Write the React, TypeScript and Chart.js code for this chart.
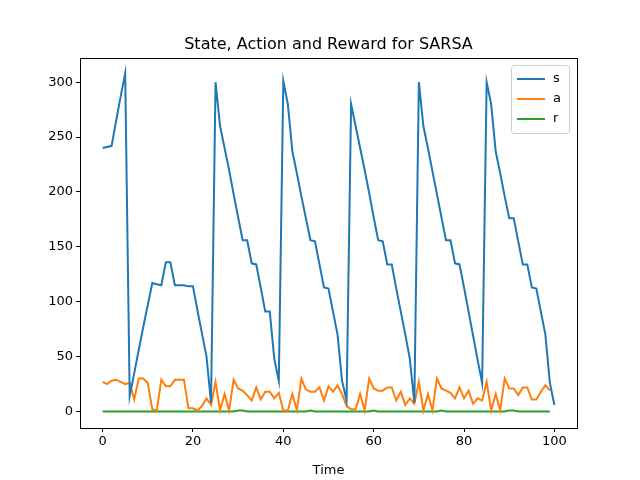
import { useEffect, useRef } from "react";
import { Chart, registerables } from "chart.js";

Chart.register(...registerables);

const sValues = [
  240, 241, 242, 265, 287, 308, 14, 35, 56, 77, 97, 117, 116, 115, 136, 136, 115, 115, 115, 114,
  114, 92, 71, 50, 8, 300, 260, 240, 220, 198, 177, 156, 156, 135, 134, 113, 91, 91, 48, 28,
  301, 280, 237, 217, 196, 176, 156, 155, 134, 113, 112, 91, 70, 28, 10, 280, 260, 240, 220, 199,
  177, 156, 155, 134, 134, 112, 91, 70, 48, 8, 300, 260, 240, 219, 198, 177, 156, 156, 135, 134,
  113, 91, 69, 47, 26, 300, 280, 237, 217, 196, 176, 176, 155, 134, 134, 113, 112, 91, 70, 26, 6,
];
const aValues = [
  27, 25, 28, 29, 27, 25, 26, 11, 30, 30, 26, 2, 1, 29, 23, 23, 29, 29, 29, 3,
  3, 1, 5, 12, 6, 27, 1, 16, 1, 29, 21, 19, 15, 10, 22, 11, 18, 18, 12, 17,
  1, 1, 16, 1, 30, 20, 18, 18, 22, 10, 23, 18, 24, 16, 5, 2, 2, 16, 1, 30,
  21, 19, 19, 22, 22, 10, 18, 6, 12, 7, 27, 1, 16, 1, 30, 21, 19, 17, 12, 22,
  12, 19, 7, 12, 10, 27, 1, 16, 1, 30, 21, 21, 15, 22, 22, 11, 11, 18, 24, 19,
];
const rValues = [
  0, 0, 0, 0, 0, 0, 0, 0, 0, 0, 0, 0, 0, 0, 0, 0, 0, 0, 0, 0,
  0, 0, 0, 0, 0, 0, 0, 0, 0, 0, 1, 1, 0, 0, 0, 0, 0, 0, 0, 0,
  0, 0, 0, 0, 0, 0, 1, 0, 0, 0, 0, 0, 0, 0, 0, 0, 0, 0, 0, 0,
  1, 0, 0, 0, 0, 0, 0, 0, 0, 0, 0, 0, 0, 0, 0, 1, 0, 0, 0, 0,
  0, 0, 0, 0, 0, 0, 0, 0, 0, 0, 1, 1, 0, 0, 0, 0, 0, 0, 0, 0,
];
const seriesNames = ["s", "a", "r"];
const seriesColors = ["#1f77b4", "#ff7f0e", "#2ca02c"];
const xTicks = [0, 20, 40, 60, 80, 100];
const yTicks = [0, 50, 100, 150, 200, 250, 300];
const titleText = "State, Action and Reward for SARSA";
const xLabel = "Time";

const FONT = "DejaVu Sans";

const framePlugin = {
  id: "frame",
  afterDraw(chart: any) {
    const { ctx, chartArea: a } = chart;
    ctx.save();
    ctx.strokeStyle = "#000";
    ctx.lineWidth = 1;
    ctx.strokeRect(a.left + 0.5, a.top + 0.5, a.right - a.left, a.bottom - a.top);
    // title
    ctx.fillStyle = "#000";
    ctx.font = `16px "${FONT}"`;
    ctx.textAlign = "center";
    ctx.textBaseline = "bottom";
    ctx.fillText(titleText, (a.left + a.right) / 2, a.top - 5);
    // legend
    const w = 58, h = 68, x0 = a.right - w - 8, y0 = a.top + 7;
    ctx.fillStyle = "rgba(255,255,255,0.8)";
    ctx.strokeStyle = "#ccc";
    ctx.beginPath();
    ctx.roundRect(x0 + 0.5, y0 + 0.5, w, h, 3);
    ctx.fill();
    ctx.stroke();
    ctx.font = `13px "${FONT}"`;
    ctx.textAlign = "left";
    ctx.textBaseline = "middle";
    seriesNames.forEach((n, i) => {
      const yy = y0 + 14 + i * 20;
      ctx.strokeStyle = seriesColors[i];
      ctx.lineWidth = 2;
      ctx.beginPath();
      ctx.moveTo(x0 + 6, yy);
      ctx.lineTo(x0 + 34, yy);
      ctx.stroke();
      ctx.fillStyle = "#000";
      ctx.fillText(n, x0 + 42, yy);
    });
    ctx.restore();
  },
};

const App = () => {
  const ref = useRef<HTMLCanvasElement>(null);

  useEffect(() => {
    if (!ref.current) return;
    document.body.style.margin = "0";
    const all = [sValues, aValues, rValues];
    const chart = new Chart(ref.current, {
      type: "line",
      data: {
        datasets: all.map((vals, i) => ({
          label: seriesNames[i],
          data: vals.map((v, k) => ({ x: k, y: v })),
          borderColor: seriesColors[i],
          backgroundColor: seriesColors[i],
          borderWidth: 2,
          pointRadius: 0,
          tension: 0,
        })),
      },
      options: {
        responsive: false,
        animation: false,
        layout: { padding: { top: 58, right: 63, left: 0, bottom: 0 } },
        plugins: { legend: { display: false }, tooltip: { enabled: false }, title: { display: false } },
        scales: {
          x: {
            type: "linear",
            min: -5,
            max: 105,
            afterBuildTicks: (s: any) => { s.ticks = xTicks.map((v) => ({ value: v })); },
            afterFit: (s: any) => { s.height = 52; },
            grid: { drawOnChartArea: false, tickLength: 4, color: "#000" },
            border: { display: false },
            ticks: { color: "#000", font: { family: FONT, size: 13 }, maxRotation: 0, padding: 2 },
            title: { display: true, text: xLabel, color: "#000", font: { family: FONT, size: 13 }, padding: 2 },
          },
          y: {
            min: -15,
            max: 322,
            afterBuildTicks: (s: any) => { s.ticks = yTicks.map((v) => ({ value: v })); },
            afterFit: (s: any) => { s.width = 80; },
            grid: { drawOnChartArea: false, tickLength: 4, color: "#000" },
            border: { display: false },
            ticks: { color: "#000", font: { family: FONT, size: 13 }, padding: 3 },
          },
        },
      },
      plugins: [framePlugin],
    });
    return () => chart.destroy();
  }, []);

  return <canvas ref={ref} width={640} height={480} style={{ display: "block" }} />;
};

export default App;
